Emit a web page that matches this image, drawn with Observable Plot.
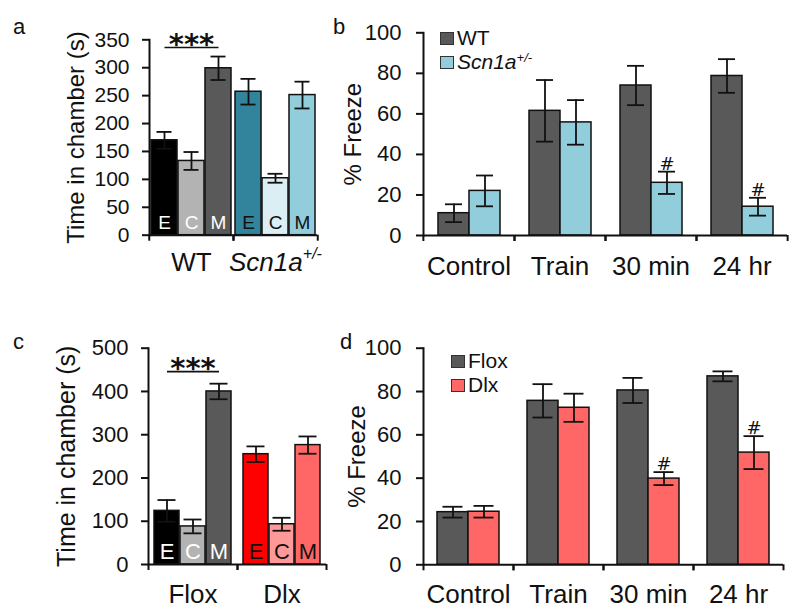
<!DOCTYPE html>
<html>
<head>
<meta charset="utf-8">
<script src="https://cdn.jsdelivr.net/npm/d3@7"></script>
<script src="https://cdn.jsdelivr.net/npm/@observablehq/plot@0.6"></script>
<style>
  html, body { margin: 0; padding: 0; background: #ffffff; }
  #root { position: relative; width: 800px; height: 613px; overflow: hidden; background: #ffffff;
          font-family: "Liberation Sans", Arial, sans-serif; color: #111; }
  .panel { position: absolute; }
  .letter { position: absolute; font-size: 22px; line-height: 22px; }
  .legend { position: absolute; font-size: 21px; line-height: 24px; }
  .legend .row { display: flex; align-items: center; height: 24px; white-space: nowrap; }
  .legend .sw { display: inline-block; width: 12px; height: 11px; border: 1.5px solid #333; margin-right: 3px; }
  .legend .lbl { display: inline-block; height: 24px; line-height: 24px; overflow: visible; }
  .legend sup { font-size: 0.62em; line-height: 0; vertical-align: 0.55em; }
</style>
</head>
<body>
<div id="root"></div>
<script>
// ---------- Panel a: time in chamber, WT vs Scn1a+/- ----------
const aGroups = ["WT", "Scn1a+/-"];
const aConds = ["E", "C", "M"];
const aWT = [170, 133, 299];
const aWTErr = [15, 16, 21];
const aScn = [257, 102, 251];
const aScnErr = [23, 8, 24];
const aBarColors = ["#000000", "#b3b3b3", "#595959", "#31849b", "#dbeef3", "#92cddc"];
const aLetterColors = ["#ffffff", "#111111"];
const aYTicks = [0, 50, 100, 150, 200, 250, 300, 350];
const aSig = [{group: "WT", from: "E", mid: "C", to: "M", label: "***"}];

// ---------- Panel b: % freeze, WT vs Scn1a+/- ----------
const bCats = ["Control", "Train", "30 min", "24 hr"];
const bSeries = ["WT", "Scn1a+/-"];
const bWT = [11, 61.5, 74, 78.7];
const bWTErr = [4.4, 15.2, 9.7, 8.3];
const bScn = [22, 55.8, 26, 14.2];
const bScnErr = [7.6, 11, 5.5, 4.4];
const bScnSig = ["", "", "#", "#"];
const bColors = ["#595959", "#92cddc"];
const bYTicks = [0, 20, 40, 60, 80, 100];

// ---------- Panel c: time in chamber, Flox vs Dlx ----------
const cGroups = ["Flox", "Dlx"];
const cConds = ["E", "C", "M"];
const cFlox = [124, 88, 400];
const cFloxErr = [25, 16, 18];
const cDlx = [255, 93, 276];
const cDlxErr = [18, 15, 20];
const cBarColors = ["#000000", "#b3b3b3", "#595959", "#ff0000", "#ff9999", "#ff6666"];
const cLetterColors = ["#ffffff", "#111111"];
const cYTicks = [0, 100, 200, 300, 400, 500];
const cSig = [{group: "Flox", from: "E", mid: "C", to: "M", label: "***"}];

// ---------- Panel d: % freeze, Flox vs Dlx ----------
const dCats = ["Control", "Train", "30 min", "24 hr"];
const dSeries = ["Flox", "Dlx"];
const dFlox = [24.3, 75.7, 80.5, 87];
const dFloxErr = [2.5, 7.7, 5.8, 2.3];
const dDlx = [24.5, 72.5, 39.8, 51.8];
const dDlxErr = [2.7, 6.5, 3, 7.6];
const dDlxSig = ["", "", "#", "#"];
const dColors = ["#595959", "#ff6666"];
const dYTicks = [0, 20, 40, 60, 80, 100];

const INK = "#111111";
const FONT = '"Liberation Sans", Arial, sans-serif';

function chamberRows(groups, conds, means, errs) {
  const rows = [];
  groups.forEach((g, gi) => conds.forEach((c, ci) => rows.push({
    group: g, cond: c, key: g + "|" + c, value: means[gi][ci], err: errs[gi][ci], sig: ""
  })));
  return rows;
}
function freezeRows(cats, series, means, errs, sigs) {
  const rows = [];
  cats.forEach((cat, i) => series.forEach((s, si) => rows.push({
    group: cat, cond: s, key: s, value: means[si][i], err: errs[si][i], sig: sigs[si][i]
  })));
  return rows;
}

function richText(node) {
  const t = d3.select(node);
  t.text(null);
  t.append("tspan").attr("font-style", "italic").text("Scn1a");
  t.append("tspan").attr("font-style", "italic").attr("font-size", "0.62em").attr("dy", "-0.75em").text("+/-");
}

function makePanel(p) {
  const fw = (p.width - p.ml - p.mr) / p.fxDomain.length;
  const hi = d => d.value + d.err;
  const lo = d => d.value - d.err;
  const groupTop = g => d3.max(p.rows.filter(r => r.group === g), hi);
  const marks = [
    Plot.barY(p.rows, {fx: "group", x: "cond", y: "value", fill: "key", stroke: INK, strokeWidth: 1.5}),
    Plot.ruleX(p.rows, {fx: "group", x: "cond", y1: lo, y2: hi, stroke: INK, strokeWidth: 1.8}),
    Plot.tickY(p.rows, {fx: "group", x: "cond", y: hi, insetLeft: p.cap, insetRight: p.cap, stroke: INK, strokeWidth: 1.8}),
    Plot.tickY(p.rows, {fx: "group", x: "cond", y: lo, insetLeft: p.cap, insetRight: p.cap, stroke: INK, strokeWidth: 1.8}),
    Plot.ruleY([0], {stroke: INK, strokeWidth: 2}),
    Plot.frame({anchor: "left", facetAnchor: "left", stroke: INK, strokeWidth: 2}),
    Plot.axisY({ticks: p.yTicks, tickSize: 7, tickPadding: p.tickPad, fontSize: p.tickFont,
                stroke: INK, strokeWidth: 2, label: p.yLabel, labelAnchor: "center",
                labelOffset: p.labelOffset, labelArrow: "none"}),
    Plot.axisFx({anchor: "bottom", tickSize: 0, tickPadding: p.catPad, fontSize: p.catFont, label: null}),
    Plot.axisFx({anchor: "bottom", tickSize: 6, fill: "none", stroke: INK, strokeWidth: 2, dx: -fw / 2, label: null}),
    Plot.axisFx({anchor: "bottom", tickSize: 6, fill: "none", stroke: INK, strokeWidth: 2, dx: fw / 2, label: null})
  ];
  if (p.letterColors) {
    p.fxDomain.forEach((g, gi) => marks.push(
      Plot.text(p.rows.filter(r => r.group === g), {fx: "group", x: "cond", y: 0, text: "cond",
        fill: p.letterColors[gi], fontSize: p.letterFont, dy: -p.letterDy})
    ));
  }
  if (p.sig) {
    marks.push(Plot.link(p.sig, {fx: "group", x1: "from", x2: "to",
      y1: d => groupTop(d.group), y2: d => groupTop(d.group), dy: -p.sigGap, stroke: INK, strokeWidth: 1.6}));
    marks.push(Plot.text(p.sig, {fx: "group", x: "mid", y: d => groupTop(d.group), text: "label",
      dy: -p.sigGap - p.starDy, fontSize: 29, fontWeight: "bold", fontFamily: "DejaVu Sans", fill: INK}));
  }
  marks.push(Plot.text(p.rows.filter(r => r.sig), {fx: "group", x: "cond", y: hi, text: "sig",
    lineAnchor: "bottom", dy: -p.hashDy, fontSize: 18, fontFamily: "DejaVu Sans", fill: INK}));

  const svg = Plot.plot({
    width: p.width, height: p.height,
    marginLeft: p.ml, marginRight: p.mr, marginTop: p.mt, marginBottom: p.mb,
    style: {fontFamily: FONT, color: INK, background: "transparent", overflow: "visible"},
    fx: {domain: p.fxDomain, padding: 0, label: null},
    x: {domain: p.xDomain, paddingInner: p.padIn, paddingOuter: p.padOut, axis: null},
    y: {domain: [0, p.yMax]},
    color: {domain: p.colorDomain, range: p.colorRange},
    marks
  });
  d3.select(svg).selectAll("text").each(function () {
    if (this.textContent === "Scn1a+/-") richText(this);
    if (this.textContent === p.yLabel) this.style.fontSize = p.titleFont + "px";
  });
  const holder = d3.select("#root").append("div").attr("class", "panel")
    .style("left", p.left + "px").style("top", p.top + "px");
  holder.node().append(svg);
}

function addLetter(ch, left, top) {
  d3.select("#root").append("div").attr("class", "letter")
    .style("left", left + "px").style("top", top + "px").text(ch);
}

function addLegend(series, colors, left, top) {
  const box = d3.select("#root").append("div").attr("class", "legend")
    .style("left", left + "px").style("top", top + "px");
  series.forEach((s, i) => {
    const row = box.append("div").attr("class", "row");
    row.append("span").attr("class", "sw").style("background", colors[i]);
    const t = row.append("span").attr("class", "lbl");
    if (s === "Scn1a+/-") {
      t.append("i").text("Scn1a");
      t.append("sup").append("i").text("+/-");
    } else t.text(s);
  });
}

// Panel a
makePanel({
  rows: chamberRows(aGroups, aConds, [aWT, aScn], [aWTErr, aScnErr]),
  fxDomain: aGroups, xDomain: aConds,
  colorDomain: aGroups.flatMap(g => aConds.map(c => g + "|" + c)), colorRange: aBarColors,
  yMax: 350, yTicks: aYTicks, yLabel: "Time in chamber (s)", titleFont: 24,
  left: 0, top: 0, width: 330, height: 300, ml: 148, mr: 13, mt: 39.3, mb: 65.3,
  padIn: 0.055, padOut: 0.07, cap: 5.5, tickFont: 21, tickPad: 13, catFont: 26, catPad: 17,
  labelOffset: 83, letterColors: aLetterColors, letterFont: 19, letterDy: 12,
  sig: aSig, sigGap: 9, starDy: 3, hashDy: 2
});
// Panel b
makePanel({
  rows: freezeRows(bCats, bSeries, [bWT, bScn], [bWTErr, bScnErr], [["", "", "", ""], bScnSig]),
  fxDomain: bCats, xDomain: bSeries,
  colorDomain: bSeries, colorRange: bColors,
  yMax: 100, yTicks: bYTicks, yLabel: "% Freeze", titleFont: 24,
  left: 330, top: 0, width: 470, height: 300, ml: 92, mr: 13, mt: 32.3, mb: 65,
  padIn: 0, padOut: 0.43, cap: 7, tickFont: 22, tickPad: 15, catFont: 26, catPad: 21,
  labelOffset: 80, hashDy: 2
});
// Panel c
makePanel({
  rows: chamberRows(cGroups, cConds, [cFlox, cDlx], [cFloxErr, cDlxErr]),
  fxDomain: cGroups, xDomain: cConds,
  colorDomain: cGroups.flatMap(g => cConds.map(c => g + "|" + c)), colorRange: cBarColors,
  yMax: 500, yTicks: cYTicks, yLabel: "Time in chamber (s)", titleFont: 25,
  left: 0, top: 300, width: 330, height: 313, ml: 148, mr: 4, mt: 47.7, mb: 49,
  padIn: 0.04, padOut: 0.17, cap: 3.5, tickFont: 22, tickPad: 13, catFont: 26, catPad: 20,
  labelOffset: 91, letterColors: cLetterColors, letterFont: 22, letterDy: 13,
  sig: cSig, sigGap: 12, starDy: 3, hashDy: 2
});
// Panel d
makePanel({
  rows: freezeRows(dCats, dSeries, [dFlox, dDlx], [dFloxErr, dDlxErr], [["", "", "", ""], dDlxSig]),
  fxDomain: dCats, xDomain: dSeries,
  colorDomain: dSeries, colorRange: dColors,
  yMax: 100, yTicks: dYTicks, yLabel: "% Freeze", titleFont: 24,
  left: 330, top: 300, width: 470, height: 313, ml: 93, mr: 17, mt: 47.7, mb: 48.7,
  padIn: 0, padOut: 0.45, cap: 5.5, tickFont: 22, tickPad: 15, catFont: 26, catPad: 20,
  labelOffset: 76, hashDy: 2
});

addLetter("a", 13, 16);
addLetter("b", 333, 16);
addLetter("c", 13, 331);
addLetter("d", 340, 331);
addLegend(bSeries, bColors, 440, 26);
addLegend(dSeries, dColors, 451, 349);
</script>
</body>
</html>
